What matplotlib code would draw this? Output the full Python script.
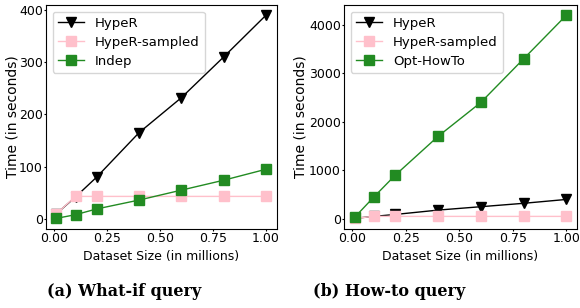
import matplotlib
matplotlib.use("Agg")
import matplotlib.pyplot as plt

sizes = [0.01, 0.1, 0.2, 0.4, 0.6, 0.8, 1.0]
whatif_hyper = [10, 42, 80, 165, 232, 310, 390]
whatif_sampled = [10, 43, 43, 43, 43, 43, 43]
whatif_indep = [1, 8, 19, 36, 55, 74, 95]
howto_hyper = [10, 50, 90, 180, 250, 320, 400]
howto_sampled = [10, 50, 50, 50, 50, 50, 50]
howto_opt = [30, 450, 900, 1700, 2400, 3300, 4200]
xticks = [0.0, 0.25, 0.5, 0.75, 1.0]
xticklabels = ['0.00', '0.25', '0.50', '0.75', '1.00']
captions = ["(a) What-if query", "(b) How-to query"]

W, H = 580, 308
fig = plt.figure(figsize=(5.8, 3.08), dpi=100)
ax1 = fig.add_axes([46/W, 1-228.5/H, 230.5/W, 223.5/H])
ax2 = fig.add_axes([344/W, 1-228.5/H, 233/W, 223.5/H])

def draw(ax, hyper, sampled, third, third_label, ylab_x):
    ax.plot(sizes, hyper, color='black', marker='v', markersize=7, lw=1, label='HypeR')
    ax.plot(sizes, sampled, color='pink', marker='s', markersize=7, lw=1, label='HypeR-sampled')
    ax.plot(sizes, third, color='forestgreen', marker='s', markersize=7, lw=1, label=third_label)
    ax.set_xticks(xticks)
    ax.set_xticklabels(xticklabels)
    ax.tick_params(labelsize=9, length=1.5, pad=0.8)
    ax.set_xlabel('Dataset Size (in millions)', fontsize=9)
    ax.xaxis.set_label_coords(0.5, -(250-228.5)/223.5)
    ax.set_ylabel('Time (in seconds)', fontsize=10)
    ax.yaxis.set_label_coords(ylab_x, 0.5)
    ax.legend(loc='upper left', fontsize=9.5, labelspacing=0.45)

draw(ax1, whatif_hyper, whatif_sampled, whatif_indep, 'Indep', (20-46)/230.5)
draw(ax2, howto_hyper, howto_sampled, howto_opt, 'Opt-HowTo', (308-344)/233)
ax1.set_yticks([0, 100, 200, 300, 400])
ax2.set_yticks([0, 1000, 2000, 3000, 4000])

fig.text(124/W, 1-292/H, captions[0], ha='center', va='center', fontsize=11.5,
         fontweight='bold', family='DejaVu Serif')
fig.text(389/W, 1-292/H, captions[1], ha='center', va='center', fontsize=11.5,
         fontweight='bold', family='DejaVu Serif')

fig.savefig('out.png', dpi=100)
